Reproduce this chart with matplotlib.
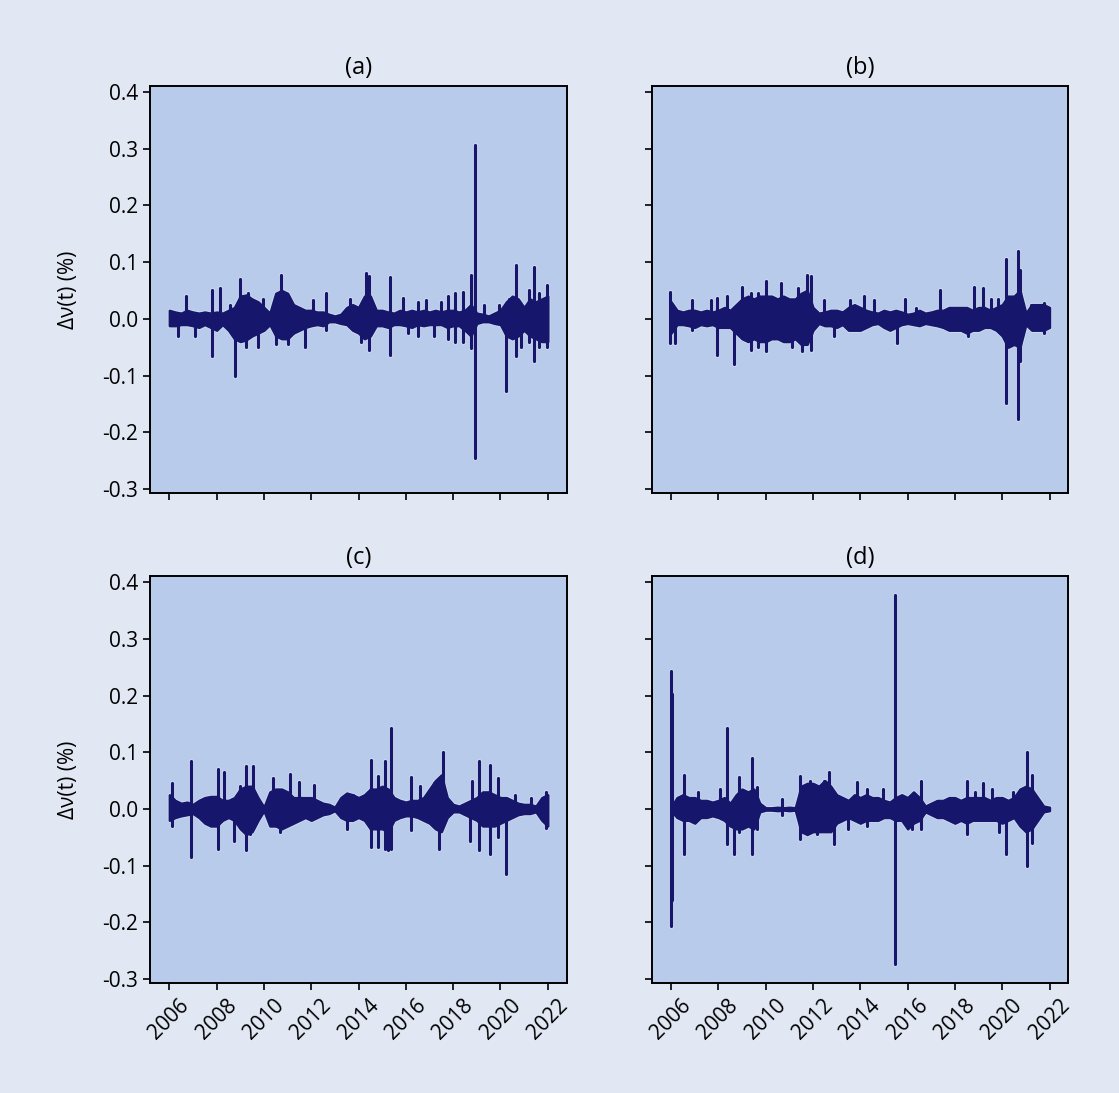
import matplotlib
matplotlib.use('Agg')
import matplotlib.pyplot as plt

# quarterly time grid (decimal years)
quarters = [2006.0, 2006.25, 2006.5, 2006.75, 2007.0, 2007.25, 2007.5, 2007.75,
            2008.0, 2008.25, 2008.5, 2008.75, 2009.0, 2009.25, 2009.5, 2009.75,
            2010.0, 2010.25, 2010.5, 2010.75, 2011.0, 2011.25, 2011.5, 2011.75,
            2012.0, 2012.25, 2012.5, 2012.75, 2013.0, 2013.25, 2013.5, 2013.75,
            2014.0, 2014.25, 2014.5, 2014.75, 2015.0, 2015.25, 2015.5, 2015.75,
            2016.0, 2016.25, 2016.5, 2016.75, 2017.0, 2017.25, 2017.5, 2017.75,
            2018.0, 2018.25, 2018.5, 2018.75, 2019.0, 2019.25, 2019.5, 2019.75,
            2020.0, 2020.25, 2020.5, 2020.75, 2021.0, 2021.25, 2021.5, 2021.75,
            2022.0]

# dense band envelope (upper / lower) per panel
band_hi_a = [.015, .012, .01, .015,  .012, .01, .012, .01,  .012, .01, .015, .02,
             .04, .042, .035, .03,  .02, .01, .045, .05,  .045, .025, .02, .015,
             .015, .012, .012, .008,  .005, .008, .02, .025,  .02, .04, .04, .015,
             .015, .012, .01, .015,  .012, .015, .012, .015,  .012, .015, .012, .015,
             .015, .012, .015, .025,  .01, .008, .005, .01,  .015, .03, .04, .035,
             .02, .035, .03, .035,  .04]
band_lo_a = [-.012, -.012, -.01, -.01,  -.012, -.015, -.01, -.015,  -.02, -.01, -.02, -.035,
             -.04, -.037, -.03, -.025,  -.02, -.01, -.03, -.035,  -.035, -.025, -.02, -.015,
             -.012, -.01, -.012, -.005,  -.005, -.008, -.01, -.02,  -.025, -.035, -.03, -.012,
             -.012, -.015, -.01, -.01,  -.012, -.015, -.01, -.012,  -.01, -.01, -.01, -.015,
             -.012, -.012, -.02, -.03,  -.008, -.005, -.005, -.008,  -.01, -.03, -.035, -.03,
             -.02, -.03, -.035, -.04,  -.04]

band_hi_b = [.03, .015, .012, .015,  .015, .012, .015, .012,  .015, .02, .015, .025,
             .035, .04, .035, .04,  .04, .04, .035, .04,  .035, .035, .045, .05,
             .02, .01, .012, .015,  .015, .012, .02, .025,  .02, .015, .012, .01,
             .015, .012, .015, .012,  .008, .01, .015, .01,  .012, .015, .015, .02,
             .02, .02, .02, .015,  .02, .02, .015, .02,  .025, .04, .04, .05,
             .01, .025, .025, .025,  .02]
band_lo_b = [-.025, -.01, -.01, -.012,  -.015, -.01, -.012, -.01,  -.015, -.015, -.015, -.025,
             -.035, -.04, -.035, -.04,  -.04, -.035, -.035, -.04,  -.04, -.035, -.045, -.045,
             -.02, -.008, -.012, -.012,  -.015, -.01, -.02, -.02,  -.02, -.015, -.01, -.008,
             -.015, -.02, -.015, -.01,  -.008, -.01, -.012, -.008,  -.01, -.012, -.015, -.02,
             -.02, -.02, -.025, -.02,  -.02, -.015, -.015, -.02,  -.03, -.05, -.045, -.05,
             -.01, -.02, -.02, -.02,  -.015]

band_hi_c = [.025, .015, .01, .012,  .008, .015, .02, .022,  .022, .015, .015, .02,
             .035, .04, .04, .02,  .003, .03, .035, .035,  .03, .02, .02, .02,
             .02, .015, .01, .008,  .003, .02, .028, .025,  .02, .025, .035, .035,
             .04, .035, .02, .015,  .012, .015, .015, .02,  .035, .05, .06, .02,
             .008, .005, .01, .015,  .02, .03, .03, .025,  .02, .02, .015, .01,
             .008, .008, .005, .02,  .025]
band_lo_c = [-.02, -.015, -.012, -.01,  -.008, -.015, -.025, -.03,  -.03, -.02, -.015, -.02,
             -.035, -.045, -.04, -.02,  -.003, -.03, -.03, -.035,  -.03, -.025, -.02, -.015,
             -.02, -.015, -.01, -.008,  -.003, -.015, -.02, -.02,  -.015, -.02, -.035, -.035,
             -.035, -.04, -.02, -.015,  -.012, -.012, -.015, -.02,  -.025, -.035, -.04, -.015,
             -.005, -.005, -.01, -.015,  -.02, -.03, -.03, -.03,  -.025, -.02, -.015, -.01,
             -.008, -.008, -.005, -.02,  -.03]

band_hi_d = [.003, .02, .025, .02,  .02, .015, .015, .012,  .015, .02, .01, .025,
             .035, .03, .035, .01,  .002, .002, .003, .002,  .003, .002, .04, .045,
             .045, .04, .05, .04,  .025, .02, .015, .025,  .02, .025, .02, .02,
             .015, .012, .02, .025,  .02, .03, .02, .005,  .01, .015, .015, .02,
             .02, .015, .02, .02,  .02, .02, .015, .02,  .02, .015, .02, .035,
             .04, .035, .02, .005,  .003]
band_lo_d = [-.003, -.015, -.02, -.02,  -.025, -.015, -.015, -.012,  -.015, -.02, -.03, -.035,
             -.035, -.03, -.035, -.005,  -.002, -.002, -.003, -.002,  -.003, -.002, -.04, -.045,
             -.04, -.04, -.04, -.04,  -.025, -.02, -.015, -.02,  -.025, -.02, -.02, -.02,
             -.015, -.015, -.02, -.02,  -.035, -.025, -.02, -.005,  -.01, -.015, -.015, -.02,
             -.025, -.02, -.025, -.02,  -.02, -.02, -.02, -.02,  -.025, -.02, -.015, -.03,
             -.04, -.035, -.02, -.005,  -.003]

# isolated spikes per panel: time and value
spike_t_a = [2006.37, 2006.72, 2007.07, 2007.82, 2007.82, 2008.13, 2008.55, 2008.76, 2008.97,
             2009.25, 2009.32, 2009.75, 2009.96, 2010.52, 2010.52, 2010.73, 2011.0, 2011.72,
             2012.07, 2012.63, 2012.63, 2013.62, 2014.11, 2014.32, 2014.46, 2014.46, 2015.31,
             2015.31, 2015.87, 2016.08, 2016.5, 2016.5, 2016.86, 2017.21, 2017.49, 2017.77,
             2017.77, 2018.06, 2018.06, 2018.41, 2018.41, 2018.76, 2018.76, 2018.93, 2018.93,
             2019.32, 2019.96, 2020.22, 2020.38, 2020.66, 2020.66, 2020.87, 2021.22, 2021.22,
             2021.44, 2021.44, 2021.65, 2021.65, 2021.97, 2021.97]
spike_v_a = [-0.03, 0.04, -0.03, 0.05, -0.066, 0.055, 0.025, -0.10, 0.07,
             -0.05, 0.045, -0.05, 0.035, 0.04, -0.045, 0.077, -0.045, -0.05,
             0.033, 0.045, -0.02, 0.035, -0.04, 0.08, 0.075, -0.055, 0.074,
             -0.063, 0.036, -0.025, 0.03, -0.03, 0.033, -0.03, 0.03, 0.04,
             -0.035, 0.045, -0.04, 0.048, -0.04, 0.077, -0.052, 0.306, -0.245,
             0.025, 0.025, -0.128, 0.035, 0.095, -0.065, -0.05, 0.05, -0.04,
             0.092, -0.075, 0.045, -0.05, 0.06, -0.05]

spike_t_b = [2005.95, 2005.95, 2006.17, 2006.87, 2006.87, 2007.67, 2007.95, 2007.95, 2008.37,
             2008.66, 2009.01, 2009.37, 2009.37, 2009.67, 2009.67, 2010.0, 2010.0, 2010.63,
             2011.12, 2011.37, 2011.54, 2011.76, 2011.92, 2011.92, 2012.47, 2012.87, 2013.57,
             2014.17, 2014.57, 2015.56, 2015.87, 2016.37, 2017.39, 2018.57, 2018.8, 2019.17,
             2019.52, 2019.82, 2020.07, 2020.18, 2020.18, 2020.65, 2020.65, 2020.77, 2020.77,
             2021.22, 2021.77, 2021.77]
spike_v_b = [0.048, -0.043, -0.043, 0.033, -0.02, 0.033, 0.037, -0.063, 0.04,
             -0.08, 0.057, 0.045, -0.055, 0.045, -0.05, 0.067, -0.057, 0.063,
             -0.05, 0.055, -0.057, 0.077, 0.075, -0.055, 0.033, -0.03, 0.033,
             0.04, 0.033, -0.043, 0.035, 0.02, 0.05, -0.03, 0.057, 0.054,
             0.035, 0.035, -0.03, 0.106, -0.148, 0.119, -0.176, 0.086, -0.075,
             0.025, 0.028, -0.025]

spike_t_c = [2006.1, 2006.1, 2006.93, 2006.93, 2008.06, 2008.06, 2008.3, 2008.75, 2009.0,
             2009.25, 2009.25, 2009.4, 2009.55, 2010.4, 2010.7, 2011.1, 2011.5, 2012.1,
             2013.5, 2013.75, 2014.54, 2014.54, 2014.82, 2014.82, 2015.1, 2015.1, 2015.25,
             2015.38, 2015.38, 2016.2, 2016.2, 2016.6, 2017.2, 2017.4, 2017.56, 2018.7,
             2018.8, 2019.11, 2019.11, 2019.54, 2019.54, 2019.9, 2019.9, 2020.24, 2020.6,
             2021.3, 2021.93, 2021.93]
spike_v_c = [0.045, -0.03, 0.084, -0.085, 0.07, -0.07, 0.065, -0.056, 0.04,
             0.075, -0.073, -0.045, 0.075, 0.054, -0.04, 0.062, 0.047, 0.043,
             -0.035, 0.025, 0.087, -0.067, 0.058, -0.067, 0.085, -0.07, -0.073,
             0.143, -0.07, 0.056, -0.038, 0.04, 0.045, -0.07, 0.10, -0.056,
             0.05, 0.085, -0.073, 0.077, -0.08, 0.055, -0.05, -0.115, 0.025,
             0.02, 0.03, -0.033]

spike_t_d = [2006.0, 2006.0, 2006.04, 2006.04, 2006.55, 2006.55, 2007.12, 2008.07, 2008.37,
             2008.37, 2008.67, 2008.87, 2008.87, 2009.43, 2009.43, 2009.62, 2009.62, 2010.67,
             2010.67, 2011.47, 2011.47, 2011.87, 2012.17, 2012.47, 2012.67, 2012.87, 2013.47,
             2013.87, 2014.27, 2014.27, 2014.97, 2015.45, 2015.45, 2016.17, 2016.57, 2016.57,
             2018.5, 2018.5, 2018.87, 2019.17, 2019.57, 2019.87, 2020.14, 2020.47, 2021.05,
             2021.05, 2021.27, 2021.27]
spike_v_d = [0.243, -0.207, 0.202, -0.161, 0.06, -0.08, 0.03, 0.035, 0.143,
             -0.062, -0.08, 0.056, -0.04, 0.09, -0.08, 0.038, -0.035, 0.017,
             -0.01, 0.058, -0.053, 0.05, -0.045, 0.05, 0.065, -0.062, -0.035,
             0.048, 0.035, -0.03, 0.035, 0.378, -0.273, -0.035, 0.05, -0.035,
             0.05, -0.045, 0.03, 0.045, 0.035, -0.04, -0.08, 0.03, 0.10,
             -0.10, 0.06, -0.06]

panel_titles = ['(a)', '(b)', '(c)', '(d)']
year_ticks = [2006, 2008, 2010, 2012, 2014, 2016, 2018, 2020, 2022]
y_ticks = [-0.3, -0.2, -0.1, 0.0, 0.1, 0.2, 0.3, 0.4]

FIG_BG = '#e1e7f3'
AX_BG = '#b8cbea'
LINE = '#16166c'
HALO = '#d3ddf1'


def draw_series(ax, band_hi, band_lo, spike_t, spike_v, color, extra, z):
    ax.fill_between(quarters, band_lo, band_hi, facecolor=color, edgecolor=color,
                    linewidth=1.8 + extra, zorder=z)
    ax.vlines(spike_t, 0, spike_v, color=color, linewidth=2.3 + extra,
              capstyle='round', zorder=z)


def draw_panel(ax, band_hi, band_lo, spike_t, spike_v, title):
    ax.set_facecolor(AX_BG)
    # light halo underneath, then the dark series on top
    draw_series(ax, band_hi, band_lo, spike_t, spike_v, HALO, 1.2, 1)
    draw_series(ax, band_hi, band_lo, spike_t, spike_v, LINE, 0.0, 2)
    ax.set_title(title, fontsize=17, pad=9)
    for s in ax.spines.values():
        s.set_color('black')
        s.set_linewidth(1.4)
    ax.tick_params(length=5, width=1.2, labelsize=15)


def main():
    plt.rcParams['font.family'] = ['Open Sans', 'DejaVu Sans']
    fig = plt.figure(figsize=(11.19, 10.93), dpi=100, facecolor=FIG_BG)

    lefts = [0.134, 0.5824]
    bottoms = [0.549, 0.1006]
    w, h = 0.3724, 0.372
    axes = []
    for r in range(2):
        for c in range(2):
            axes.append(fig.add_axes([lefts[c], bottoms[r], w, h]))

    data = [(band_hi_a, band_lo_a, spike_t_a, spike_v_a),
            (band_hi_b, band_lo_b, spike_t_b, spike_v_b),
            (band_hi_c, band_lo_c, spike_t_c, spike_v_c),
            (band_hi_d, band_lo_d, spike_t_d, spike_v_d)]

    for i, ax in enumerate(axes):
        hi, lo, st, sv = data[i]
        draw_panel(ax, hi, lo, st, sv, panel_titles[i])
        ax.set_xlim(2005.18, 2022.8)
        ax.set_ylim(-0.307, 0.41)
        ax.set_yticks(y_ticks)
        ax.set_xticks(year_ticks)
        if i % 2 == 0:
            ax.set_yticklabels(['%.1f' % v for v in y_ticks])
            ax.set_ylabel('Δν(t) (%)', fontsize=15, labelpad=17)
        else:
            ax.set_yticklabels([])
        if i >= 2:
            ax.set_xticklabels([str(y) for y in year_ticks], rotation=45)
        else:
            ax.set_xticklabels([])

    fig.savefig('out.png', dpi=100, facecolor=FIG_BG)


main()
